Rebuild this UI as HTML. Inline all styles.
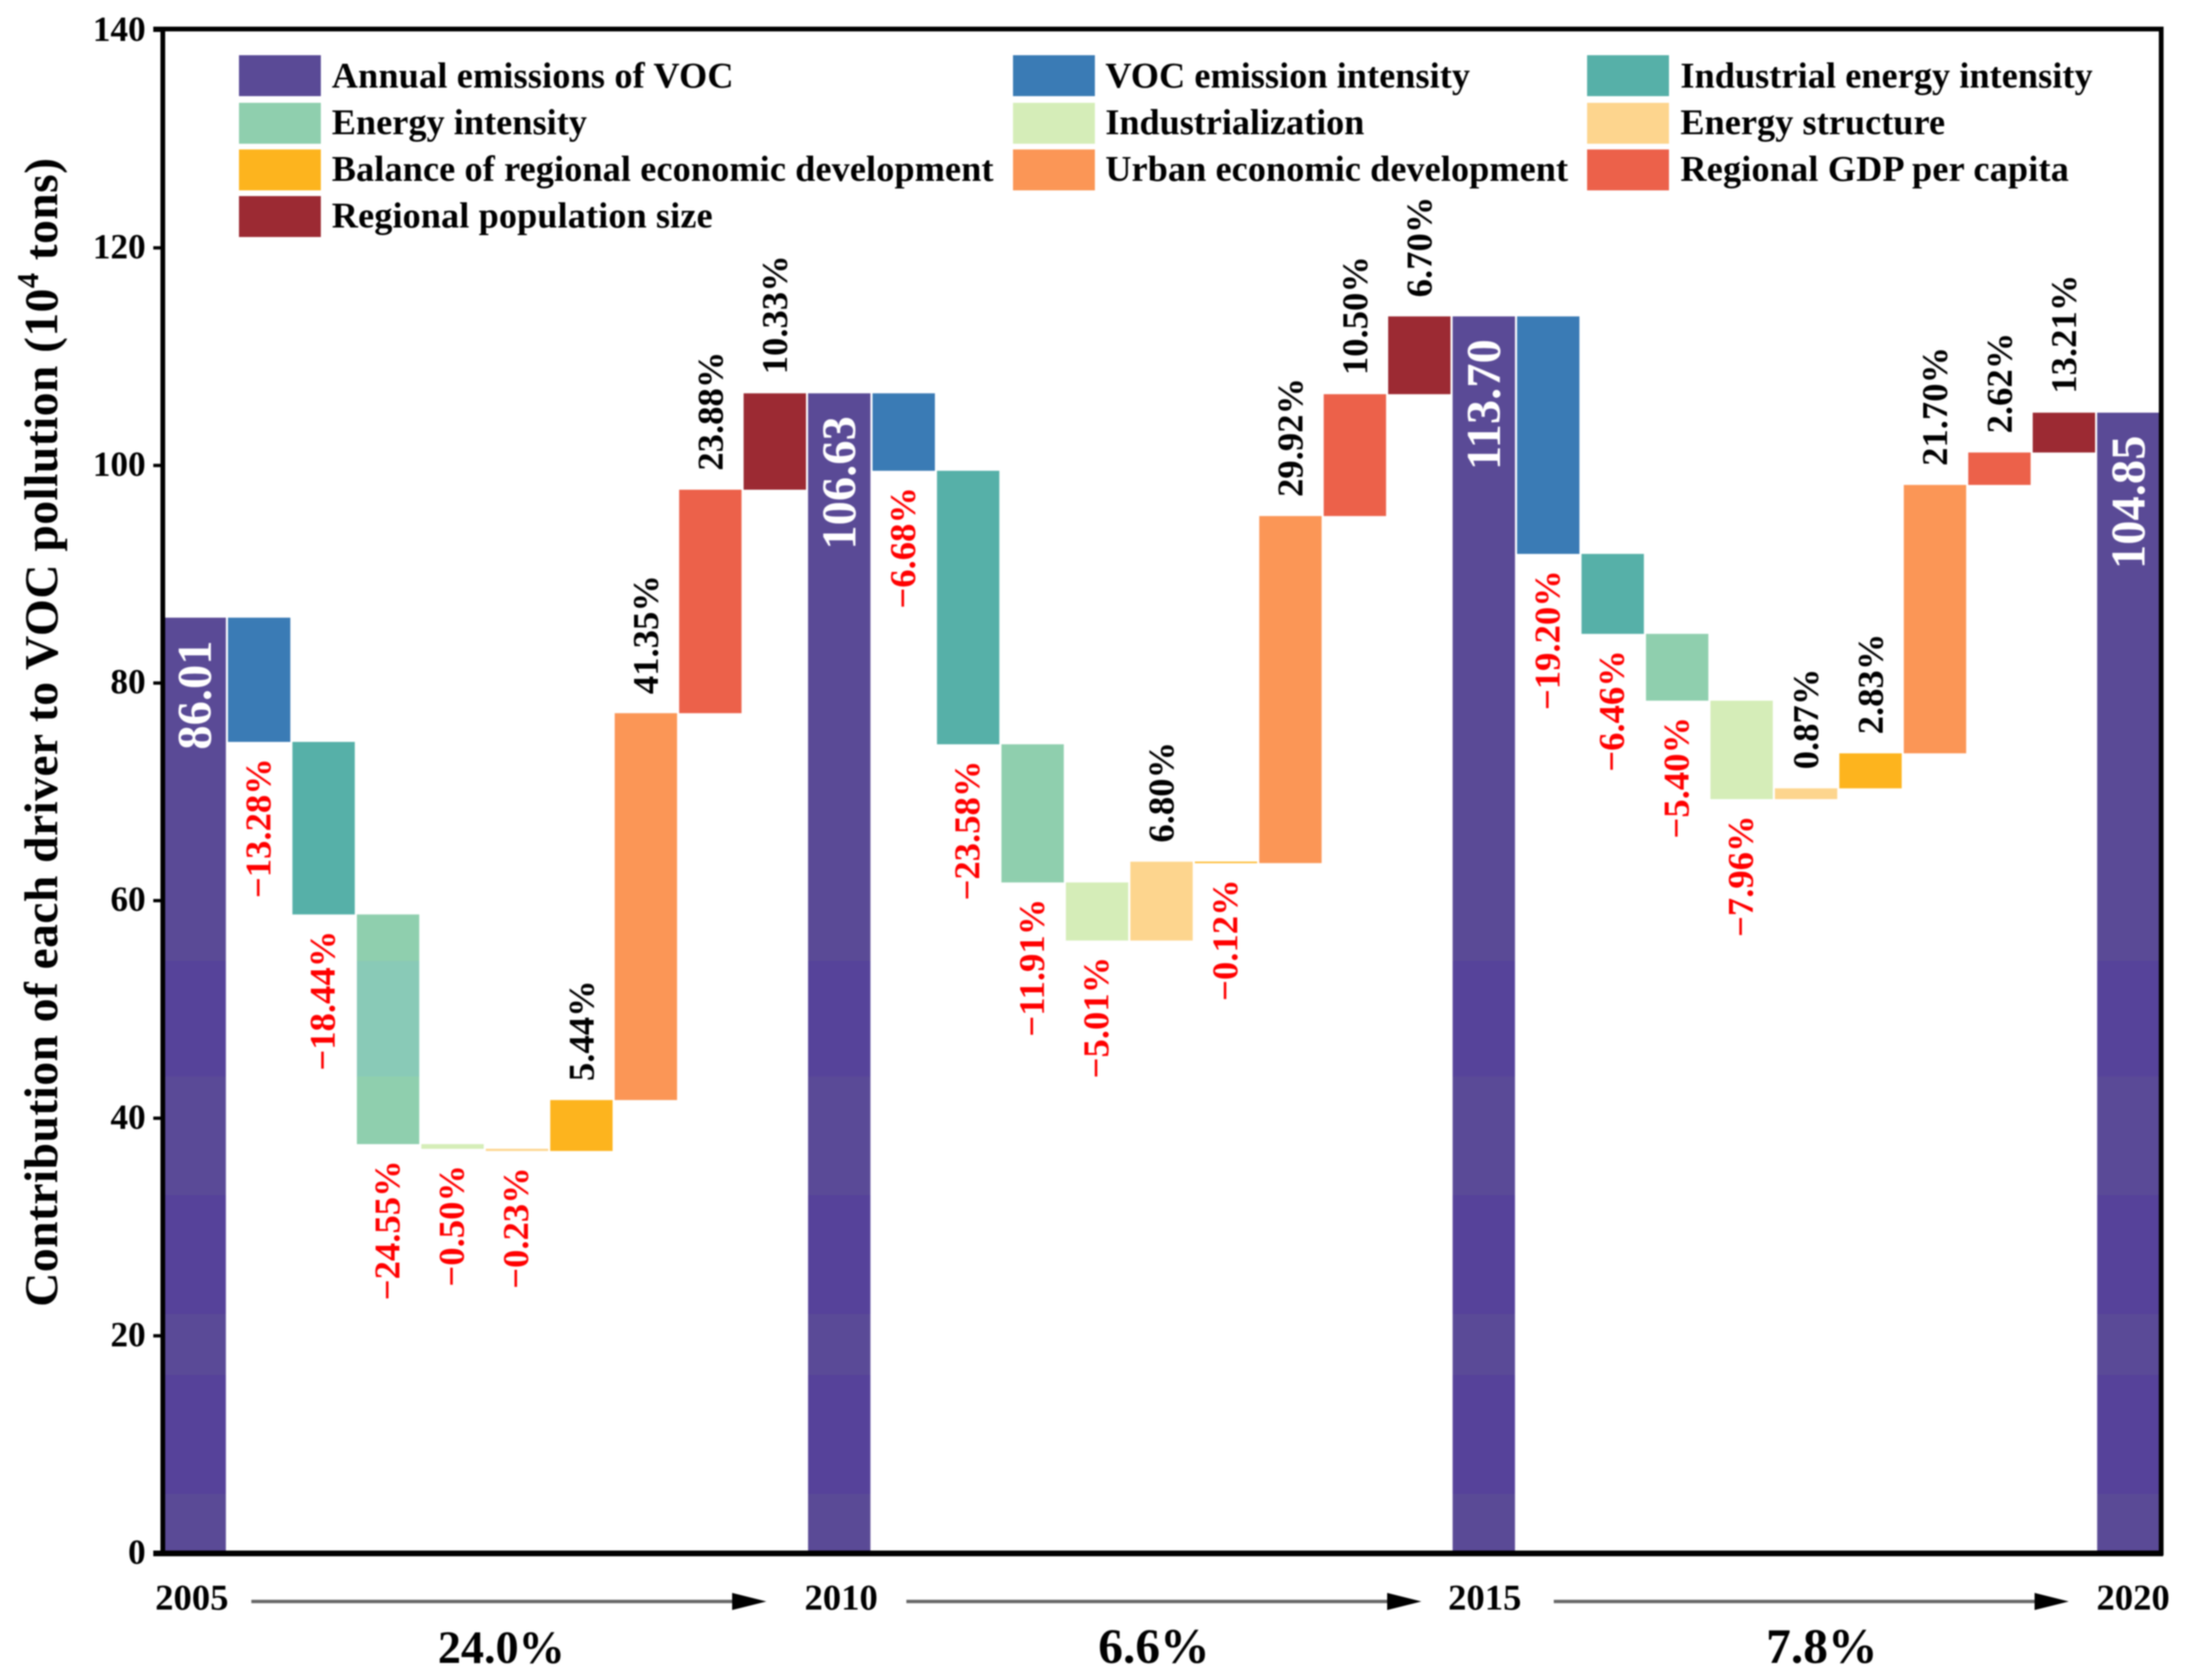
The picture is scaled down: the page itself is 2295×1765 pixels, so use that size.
<!DOCTYPE html>
<html lang="en">
<head>
<meta charset="utf-8">
<title>Contribution of each driver to VOC pollution</title>
<style>
  html, body { margin: 0; padding: 0; background: #ffffff; }
  body { width: 2295px; height: 1765px; overflow: hidden; }
  svg { display: block; filter: blur(0.7px); }
  text { font-family: "Liberation Serif", "Times New Roman", serif; font-weight: bold; }
</style>
</head>
<body>
<svg id="chart" xmlns="http://www.w3.org/2000/svg" width="2295" height="1765" viewBox="0 0 2295 1765">
  <defs>
    <linearGradient id="total-bands" gradientUnits="userSpaceOnUse" x1="0" y1="30" x2="0" y2="1632">
      <stop offset="0" stop-color="#5a4a96"/>
      <stop offset="0.6114" stop-color="#5a4a96"/>
      <stop offset="0.6114" stop-color="#56439a"/>
      <stop offset="0.6874" stop-color="#56439a"/>
      <stop offset="0.6874" stop-color="#5a4a97"/>
      <stop offset="0.7649" stop-color="#5a4a97"/>
      <stop offset="0.7649" stop-color="#56429a"/>
      <stop offset="0.8429" stop-color="#56429a"/>
      <stop offset="0.8429" stop-color="#5a4a97"/>
      <stop offset="0.8829" stop-color="#5a4a97"/>
      <stop offset="0.8829" stop-color="#56429a"/>
      <stop offset="0.9609" stop-color="#56429a"/>
      <stop offset="0.9609" stop-color="#5a4a96"/>
      <stop offset="1" stop-color="#5a4a96"/>
    </linearGradient>
    <linearGradient id="energy-bands" gradientUnits="userSpaceOnUse" x1="0" y1="30" x2="0" y2="1632">
      <stop offset="0" stop-color="#8fcfae"/>
      <stop offset="0.6114" stop-color="#8fcfae"/>
      <stop offset="0.6114" stop-color="#89cab7"/>
      <stop offset="0.6874" stop-color="#89cab7"/>
      <stop offset="0.6874" stop-color="#8fcfae"/>
      <stop offset="1" stop-color="#8fcfae"/>
    </linearGradient>
  </defs>

  <rect x="0" y="0" width="2295" height="1765" fill="#ffffff"/>

  <g id="bars"></g>
  <g id="bar-labels"></g>

  <g id="frame">
    <rect x="171" y="30.5" width="2099" height="1601" fill="none" stroke="#000000" stroke-width="5"/>
    <line x1="161" y1="1632" x2="2272" y2="1632" stroke="#000000" stroke-width="6"/>
    <line x1="161" y1="30.5" x2="2272" y2="30.5" stroke="#000000" stroke-width="5"/>
  </g>

  <g id="y-axis"></g>

  <text transform="translate(60,1373) rotate(-90)" font-size="50" textLength="1207" fill="#000000">Contribution of each driver to VOC pollution (10<tspan font-size="32" dy="-20">4</tspan><tspan dy="20"> tons)</tspan></text>

  <g id="legend"></g>
  <g id="x-axis"></g>
</svg>

<script>
// ---- chart data ----
const driverNames = ['VOC emission intensity', 'Industrial energy intensity', 'Energy intensity', 'Industrialization', 'Energy structure', 'Balance of regional economic development', 'Urban economic development', 'Regional GDP per capita', 'Regional population size'];
const years = ['2005', '2010', '2015', '2020'];
const totals = [86.01, 106.63, 113.70, 104.85];
const totalLabels = ['86.01', '106.63', '113.70', '104.85'];
const changes2005to2010 = [-11.42, -15.86, -21.11, -0.43, -0.20, 4.68, 35.56, 20.54, 8.86];
const changes2010to2015 = [-7.12, -25.14, -12.70, -5.34, 7.25, -0.13, 31.90, 11.20, 7.15];
const changes2015to2020 = [-21.83, -7.35, -6.14, -9.05, 0.99, 3.22, 24.67, 2.98, 3.66];
const labels2005to2010 = ['\u221213.28%', '\u221218.44%', '\u221224.55%', '\u22120.50%', '\u22120.23%', '5.44%', '41.35%', '23.88%', '10.33%'];
const labels2010to2015 = ['\u22126.68%', '\u221223.58%', '\u221211.91%', '\u22125.01%', '6.80%', '\u22120.12%', '29.92%', '10.50%', '6.70%'];
const labels2015to2020 = ['\u221219.20%', '\u22126.46%', '\u22125.40%', '\u22127.96%', '0.87%', '2.83%', '21.70%', '2.62%', '13.21%'];
const growthLabels = ['24.0%', '6.6%', '7.8%'];
const yTicks = [0, 20, 40, 60, 80, 100, 120, 140];
const legendOrder = ['Annual emissions of VOC', 'VOC emission intensity', 'Industrial energy intensity', 'Energy intensity', 'Industrialization', 'Energy structure', 'Balance of regional economic development', 'Urban economic development', 'Regional GDP per capita', 'Regional population size'];

// ---- styles and layout ----
const driverColors = ['#3a7bb5', '#56b0a8', '#8fcfae', '#d5edb8', '#fdd58e', '#fdb41e', '#fb9656', '#ec614a', '#9c2a33'];
const totalFill = 'url(#total-bands)';
const NS = 'http://www.w3.org/2000/svg';

function yScale(v) { return 1632 - v * 11.43; }
function xCenter(step) { return 204.5 + step * 67.7; }
const BAR_WIDTH = 65.5;

function make(tag, attrs, parent, text) {
  const el = document.createElementNS(NS, tag);
  for (const k in attrs) el.setAttribute(k, attrs[k]);
  if (text !== undefined) el.textContent = text;
  parent.appendChild(el);
  return el;
}
function slug(s) { return s.toLowerCase().replace(/[^a-z0-9]+/g, '-'); }

const barsG = document.getElementById('bars');
const labelsG = document.getElementById('bar-labels');
const yAxisG = document.getElementById('y-axis');
const xAxisG = document.getElementById('x-axis');
const legendG = document.getElementById('legend');

function rotatedLabel(cx, y, anchor, size, fill, text) {
  const t = make('text', {
    transform: 'translate(' + (cx + size * 0.33) + ',' + y + ') rotate(-90)',
    'text-anchor': anchor,
    'font-size': size,
    fill: fill
  }, labelsG, text);
  return t;
}

function drawTotal(idx) {
  const step = idx * 10;
  const cx = xCenter(step);
  const top = yScale(totals[idx]);
  const bar = make('rect', { x: cx - BAR_WIDTH / 2, y: top, width: BAR_WIDTH, height: yScale(0) - top, fill: totalFill }, barsG);
  
  
  const t = rotatedLabel(cx, top + 24, 'end', 51, '#ffffff', totalLabels[idx]);
  
  
}

function drawPeriod(idx, changes, labels) {
  let level = totals[idx];
  changes.forEach(function (delta, i) {
    const step = idx * 10 + i + 1;
    const cx = xCenter(step);
    const next = level + delta;
    const top = yScale(Math.max(level, next));
    const bottom = yScale(Math.min(level, next));
    const fill = (idx === 0 && i === 2) ? 'url(#energy-bands)' : driverColors[i];
    const bar = make('rect', { x: cx - BAR_WIDTH / 2, y: top, width: BAR_WIDTH, height: Math.max(bottom - top, 1), fill: fill }, barsG);
    
    
    const negative = delta < 0;
    const t = negative
      ? rotatedLabel(cx - 1, bottom + 17, 'end', 38.5, '#ff0000', labels[i])
      : rotatedLabel(cx, top - 20, 'start', 38.5, '#000000', labels[i]);
    
    
    level = next;
  });
}

totals.forEach(function (_, i) { drawTotal(i); });
drawPeriod(0, changes2005to2010, labels2005to2010);
drawPeriod(1, changes2010to2015, labels2010to2015);
drawPeriod(2, changes2015to2020, labels2015to2020);

// y axis ticks
yTicks.forEach(function (v) {
  const y = yScale(v);
  const tick = make('line', { x1: 161, x2: 171, y1: y, y2: y, stroke: '#000000', 'stroke-width': 3.5 }, yAxisG);
  
  
  const lab = make('text', { x: 153, y: y + 11, 'text-anchor': 'end', 'font-size': 37, fill: '#000000' }, yAxisG, String(v));
  
  
});

// x axis years and period arrows
const yearOffsets = [-3, 2, 1, 5];
years.forEach(function (yr, i) {
  const lab = make('text', { x: xCenter(i * 10) + yearOffsets[i], y: 1691, 'text-anchor': 'middle', 'font-size': 38.5, fill: '#000000' }, xAxisG, yr);
  
  
});

const arrowStarts = [264, 952, 1632];
const arrowEnds = [805, 1493, 2173];
const growthCenters = [526.5, 1212, 1913.5];
const growthSizes = [48.5, 52, 52];
growthLabels.forEach(function (g, i) {
  const y = 1682.5;
  const line = make('line', { x1: arrowStarts[i], x2: arrowEnds[i] - 30, y1: y, y2: y, stroke: '#666666', 'stroke-width': 3.5 }, xAxisG);
  
  
  const head = make('polygon', { points: (arrowEnds[i] - 36) + ',' + (y - 9) + ' ' + arrowEnds[i] + ',' + y + ' ' + (arrowEnds[i] - 36) + ',' + (y + 9), fill: '#000000' }, xAxisG);
  
  
  const lab = make('text', { x: growthCenters[i], y: 1747, 'text-anchor': 'middle', 'font-size': growthSizes[i], fill: '#000000' }, xAxisG, g);
  
  
});

// legend
const legendColors = ['#5a4a96'].concat(driverColors);
const legendSwatchX = [251, 1064, 1667];
const legendTextX = [348.5, 1161, 1765];
const legendSwatchY = [58, 108, 157, 206];
const legendBaseY = [92, 141, 190, 239];
const legendWidths = [422, 383, 433, 268, 272, 278, 695, 486, 408, 400];
legendOrder.forEach(function (name, i) {
  const col = i % 3;
  const row = Math.floor(i / 3);
  const sw = make('rect', { x: legendSwatchX[col], y: legendSwatchY[row], width: 86, height: 43, fill: legendColors[i] }, legendG);
  
  
  const t = make('text', { x: legendTextX[col], y: legendBaseY[row], 'font-size': 38, textLength: legendWidths[i], fill: '#000000' }, legendG, name);
  
  
});
</script>
</body>
</html>
